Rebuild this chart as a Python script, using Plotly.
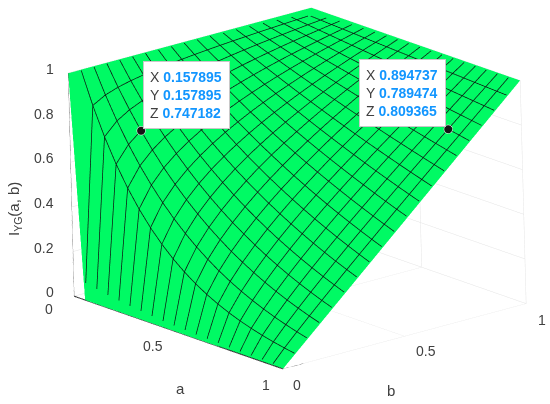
"""Surface of I_YG(a, b) with two data tips."""

import plotly.graph_objects as go

# ---------------------------------------------------------------------------
# Data
# ---------------------------------------------------------------------------

A_VALUES = [0, 0.052632, 0.105263, 0.157895, 0.210526, 0.263158, 0.315789, 0.368421, 0.421053, 0.473684,
            0.526316, 0.578947, 0.631579, 0.684211, 0.736842, 0.789474, 0.842105, 0.894737, 0.947368, 1]
B_VALUES = list(A_VALUES)

# one row per b, one column per a
I_YG = [
    [1, 0, 0, 0, 0, 0, 0, 0, 0, 0, 0, 0, 0, 0, 0, 0, 0, 0, 0, 0],
    [1, .8564, .7334, .6281, .5379, .4607, .3945, .3379, .2894, .2478, .2122, .1817, .1556, .1333, .1141, .0978, .0837, .0717, .0614, .0526],
    [1, .8883, .7890, .7008, .6225, .5530, .4912, .4363, .3876, .3443, .3058, .2716, .2413, .2143, .1904, .1691, .1502, .1334, .1185, .1053],
    [1, .9074, .8234, .7472, .6780, .6152, .5583, .5066, .4597, .4171, .3785, .3435, .3117, .2828, .2566, .2329, .2113, .1918, .1740, .1579],
    [1, .9213, .8487, .7819, .7203, .6636, .6113, .5632, .5188, .4780, .4403, .4057, .3737, .3443, .3172, .2922, .2692, .2480, .2285, .2105],
    [1, .9321, .8689, .8100, .7550, .7038, .6561, .6115, .5701, .5314, .4953, .4617, .4304, .4012, .3740, .3486, .3250, .3029, .2824, .2632],
    [1, .9411, .8857, .8336, .7845, .7384, .6949, .6540, .6155, .5793, .5452, .5131, .4829, .4545, .4277, .4025, .3788, .3565, .3356, .3158],
    [1, .9488, .9002, .8542, .8105, .7690, .7296, .6923, .6568, .6232, .5913, .5610, .5323, .5051, .4792, .4547, .4314, .4093, .3884, .3684],
    [1, .9555, .9130, .8723, .8335, .7964, .7609, .7271, .6947, .6638, .6342, .6060, .5790, .5532, .5286, .5051, .4826, .4611, .4406, .4211],
    [1, .9614, .9243, .8887, .8544, .8215, .7898, .7593, .7300, .7019, .6748, .6488, .6238, .5997, .5766, .5543, .5330, .5124, .4926, .4737],
    [1, .9668, .9347, .9036, .8736, .8446, .8165, .7894, .7632, .7378, .7133, .6896, .6667, .6446, .6232, .6025, .5824, .5631, .5444, .5263],
    [1, .9717, .9441, .9173, .8913, .8660, .8415, .8176, .7944, .7719, .7500, .7288, .7081, .6880, .6685, .6495, .6311, .6132, .5958, .5789],
    [1, .9761, .9528, .9301, .9079, .8862, .8650, .8444, .8242, .8045, .7853, .7666, .7483, .7304, .7130, .6960, .6793, .6631, .6473, .6316],
    [1, .9802, .9609, .9419, .9233, .9050, .8871, .8696, .8524, .8356, .8191, .8029, .7870, .7715, .7562, .7413, .7267, .7123, .6982, .6842],
    [1, .9841, .9684, .9530, .9378, .9228, .9081, .8937, .8794, .8654, .8516, .8380, .8247, .8115, .7986, .7858, .7733, .7610, .7489, .7368],
    [1, .9876, .9754, .9634, .9514, .9397, .9281, .9166, .9053, .8941, .8830, .8721, .8613, .8507, .8402, .8298, .8195, .8094, .7994, .7895],
    [1, .9910, .9821, .9732, .9644, .9558, .9472, .9386, .9302, .9218, .9135, .9053, .8972, .8891, .8811, .8732, .8653, .8575, .8498, .8421],
    [1, .9942, .9884, .9826, .9769, .9711, .9655, .9599, .9543, .9487, .9432, .9377, .9322, .9268, .9214, .9160, .9107, .9054, .9001, .8947],
    [1, .9972, .9943, .9915, .9887, .9859, .9830, .9802, .9775, .9747, .9719, .9691, .9664, .9636, .9609, .9581, .9554, .9527, .9500, .9474],
    [1, 1, 1, 1, 1, 1, 1, 1, 1, 1, 1, 1, 1, 1, 1, 1, 1, 1, 1, 1],
]

AB_TICKS = [0, 0.5, 1]
Z_TICKS = [0, 0.2, 0.4, 0.6, 0.8, 1]

TIP_X = [0.157895, 0.894737]
TIP_Y = [0.157895, 0.789474]
TIP_Z = [0.747182, 0.809365]

GREEN = "#00FA64"
TEXT = "#404040"
AXIS = "#555555"
TICK_FONT = dict(family="Liberation Sans", size=14, color=TEXT)

# ---------------------------------------------------------------------------
# Camera (orthographic, with a slight roll)
# ---------------------------------------------------------------------------

VIEW = (0.7456, -0.5944, 0.3017)
EYE_DIST = 2.3
CENTER = (-0.0541, -0.0993, -0.0618)
UP = (-0.2193, 0.2088, 0.9531)
BOX = dict(x=1.643, y=1.55, z=1.159)
MARKER_LIFT = 0.08  # keeps the dots in front of the sloped surface
MESH_LIFT = 0.012

fig = go.Figure()

fig.add_trace(go.Surface(
    x=A_VALUES, y=B_VALUES, z=I_YG,
    colorscale=[[0, GREEN], [1, GREEN]],
    showscale=False,
    hoverinfo="skip",
    lighting=dict(ambient=1, diffuse=0, specular=0, fresnel=0, roughness=1),
))


def add_line(xs, ys, zs, color=AXIS, width=1):
    fig.add_trace(go.Scatter3d(
        x=xs, y=ys, z=zs, mode="lines",
        line=dict(color=color, width=width),
        hoverinfo="skip", showlegend=False,
    ))


def lifted(xs, ys, zs, lift):
    return (
        [v + lift * VIEW[0] / BOX["x"] for v in xs],
        [v + lift * VIEW[1] / BOX["y"] for v in ys],
        [v + lift * VIEW[2] / BOX["z"] for v in zs],
    )


# Mesh lines, drawn from the same table as the surface
for j, b in enumerate(B_VALUES):
    add_line(*lifted(A_VALUES, [b] * len(A_VALUES), I_YG[j], MESH_LIFT), color="#0c1a12", width=1.5)
for i, a in enumerate(A_VALUES):
    add_line(*lifted([a] * len(B_VALUES), B_VALUES, [row[i] for row in I_YG], MESH_LIFT), color="#0c1a12", width=1.5)

# Axis lines and outward ticks
add_line([0, 1], [0, 0], [0, 0], color="#1a1a1a", width=2)
add_line([1, 1], [0, 1], [0, 0])
add_line([0, 0], [0, 0], [0, 1])
for t in AB_TICKS:
    add_line([t, t], [0, -0.025], [0, 0])
    add_line([1, 1.025], [t, t], [0, 0])
for t in Z_TICKS:
    add_line([0, 0], [0, -0.025], [t, t])

dot_x, dot_y, dot_z = lifted(TIP_X, TIP_Y, TIP_Z, MARKER_LIFT)
fig.add_trace(go.Scatter3d(
    x=dot_x, y=dot_y, z=dot_z,
    mode="markers",
    marker=dict(size=5, color="#151515", line=dict(color="white", width=1)),
    hoverinfo="skip", showlegend=False,
))

scene_notes = []
for t in Z_TICKS:
    scene_notes.append(dict(
        x=0, y=0, z=t, text=f"{t:g}", showarrow=False, font=TICK_FONT,
        xanchor="right", yanchor="middle", xshift=-12 - 6 * (1 - t), yshift=4,
    ))
for t, dx, dy in zip(AB_TICKS, [-25, -26, -17], [-13, -13, -16]):
    scene_notes.append(dict(
        x=t, y=0, z=0, text=f"{t:g}", showarrow=False, font=TICK_FONT, xshift=dx, yshift=dy,
    ))
for t, dx, dy in zip(AB_TICKS, [14, 21, 16], [-16, -15, -16]):
    scene_notes.append(dict(
        x=1, y=t, z=0, text=f"{t:g}", showarrow=False, font=TICK_FONT, xshift=dx, yshift=dy,
    ))


def tip_text(x, y, z):
    rows = [("X", x), ("Y", y), ("Z", z)]
    return "<br>".join(
        f"<span style='color:{TEXT}'>{k}</span> <b>{v:.6f}</b>" for k, v in rows
    )


for x, y, z, anchor, dx in zip(TIP_X, TIP_Y, TIP_Z, ["left", "right"], [2, -2]):
    scene_notes.append(dict(
        x=x, y=y, z=z, text=tip_text(x, y, z), showarrow=False, align="left",
        font=dict(family="Liberation Sans", size=14, color="#1296FF"),
        bgcolor="white", bordercolor="#c8c8c8", borderwidth=1, borderpad=6,
        width=73, height=54, xanchor=anchor, yanchor="bottom", xshift=dx, yshift=2,
    ))


def hidden_axis(dtick):
    return dict(
        range=[0, 1], dtick=dtick, title="", showticklabels=False, ticks="",
        showgrid=True, gridcolor="#e4e4e4", gridwidth=1,
        showline=False, zeroline=False, showbackground=False, showspikes=False,
    )


fig.update_layout(
    width=550, height=404,
    margin=dict(l=0, r=0, t=0, b=0),
    paper_bgcolor="white",
    showlegend=False,
    scene=dict(
        domain=dict(x=[0, 1], y=[0, 1]),
        xaxis=hidden_axis(0.5),
        yaxis=hidden_axis(0.5),
        zaxis=hidden_axis(0.2),
        aspectmode="manual",
        aspectratio=BOX,
        camera=dict(
            projection=dict(type="orthographic"),
            eye=dict(x=CENTER[0] + EYE_DIST * VIEW[0], y=CENTER[1] + EYE_DIST * VIEW[1], z=CENTER[2] + EYE_DIST * VIEW[2]),
            center=dict(x=CENTER[0], y=CENTER[1], z=CENTER[2]),
            up=dict(x=UP[0], y=UP[1], z=UP[2]),
        ),
        annotations=scene_notes,
    ),
    annotations=[
        dict(text="a", x=180 / 550, y=1 - 388 / 404, xref="paper", yref="paper", showarrow=False,
             xanchor="center", yanchor="middle", font=dict(family="Liberation Sans", size=15, color=TEXT)),
        dict(text="b", x=391 / 550, y=1 - 390 / 404, xref="paper", yref="paper", showarrow=False,
             xanchor="center", yanchor="middle", font=dict(family="Liberation Sans", size=15, color=TEXT)),
        dict(text="I<sub>YG</sub>(a, b)", x=14 / 550, y=1 - 209 / 404, xref="paper", yref="paper",
             showarrow=False, textangle=-90, xanchor="center", yanchor="middle",
             font=dict(family="Liberation Sans", size=15, color=TEXT)),
    ],
)

fig.write_html("out.html", config=dict(displayModeBar=False),
               post_script="document.body.style.margin='0';")
